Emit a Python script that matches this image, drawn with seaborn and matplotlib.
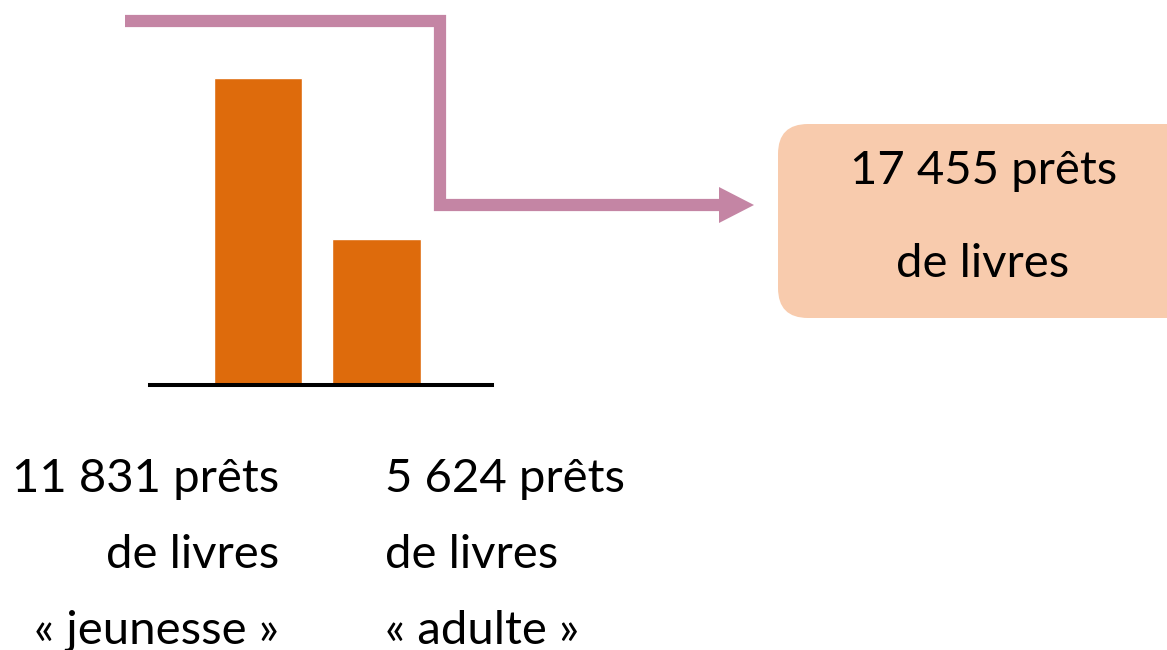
import matplotlib
matplotlib.use("Agg")
import matplotlib.pyplot as plt
from matplotlib.patches import FancyBboxPatch, Polygon
import pandas as pd
import seaborn as sns

# loans of books by category
categories = ["jeunesse", "adulte"]
loans = [11831, 5624]
total_loans = 17455

label_lines = {
    "jeunesse": ["11 831 prêts", "de livres", "« jeunesse »"],
    "adulte": ["5 624 prêts", "de livres", "« adulte »"],
}
total_lines = ["17 455 prêts", "de livres"]

W, H = 1167, 650
bar_color = "#DE6B0C"
arrow_color = "#C485A4"
box_color = "#F8CBAD"

sns.set_theme(style="white")
plt.rcParams['font.family'] = ['Lato', 'DejaVu Sans']
plt.rcParams['text.color'] = 'black'

fig = plt.figure(figsize=(W / 100, H / 100), dpi=100)

# canvas axis in pixel units for the decorations
canvas = fig.add_axes([0, 0, 1, 1])
canvas.set_xlim(0, W)
canvas.set_ylim(H, 0)
canvas.axis("off")

# bar axis: baseline at y=385 px, x from 150 to 492 px
base_y, top_y = 385, 78
left_px, right_px = 150, 492
ax = fig.add_axes([left_px / W, 1 - base_y / H, (right_px - left_px) / W, (base_y - top_y) / H])
ax.patch.set_alpha(0)
df = pd.DataFrame({"categorie": categories, "prets": loans})
sns.barplot(data=df, x="categorie", y="prets", color=bar_color, saturation=1,
            width=0.75, ax=ax)
step = 118.5
ax.set_xlim(-(258 - left_px) / step, (right_px - 258) / step)
ax.set_ylim(0, max(loans))
ax.set_xticks([])
ax.set_yticks([])
ax.set_xlabel("")
ax.set_ylabel("")
for side in ["top", "left", "right"]:
    ax.spines[side].set_visible(False)
ax.spines["bottom"].set_color("black")
ax.spines["bottom"].set_linewidth(2.9)
ax.spines["bottom"].set_zorder(5)

# pink connector with arrow
canvas.plot([125, 440, 440, 721], [21, 21, 205, 205], color=arrow_color,
            lw=8.8, solid_joinstyle="miter", solid_capstyle="butt")
canvas.add_patch(Polygon([(719, 187), (754, 205), (719, 223)], closed=True,
                         color=arrow_color, lw=0))

# total box
canvas.add_patch(FancyBboxPatch((778, 124), 420, 194,
                                boxstyle="round,pad=0,rounding_size=30",
                                fc=box_color, ec="none"))
fs = 34
canvas.text(984, 184, total_lines[0], fontsize=fs, ha="center", va="baseline")
canvas.text(983, 277, total_lines[1], fontsize=fs, ha="center", va="baseline")

# labels under bars
baselines = [492, 568, 644]
for line, yb in zip(label_lines["jeunesse"], baselines):
    canvas.text(279, yb, line, fontsize=fs, ha="right", va="baseline")
for line, yb in zip(label_lines["adulte"], baselines):
    canvas.text(385, yb, line, fontsize=fs, ha="left", va="baseline")

fig.savefig("out.png", dpi=100)
